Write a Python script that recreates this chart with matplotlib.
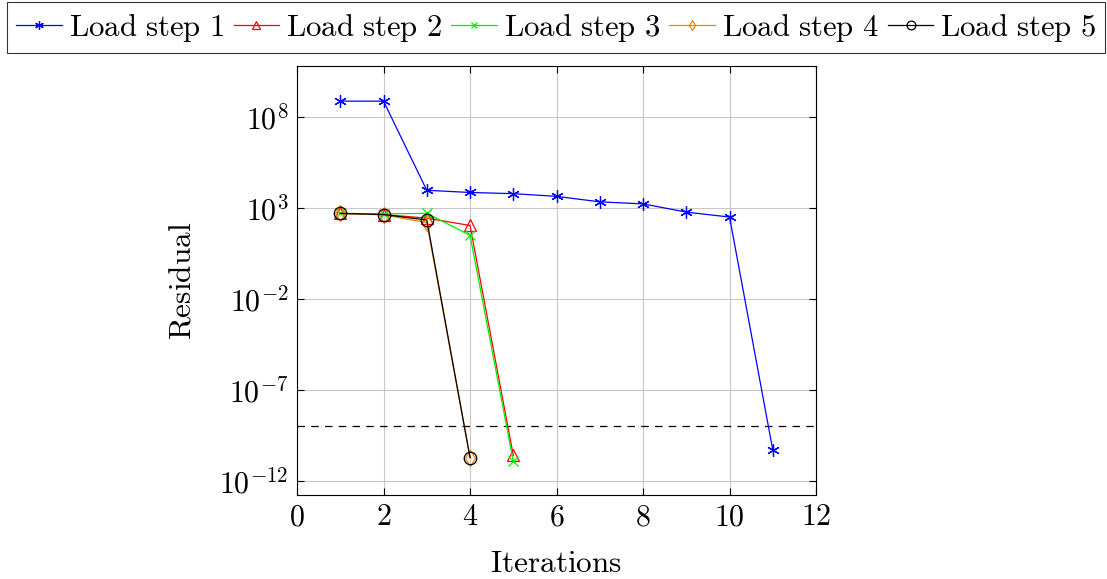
import matplotlib
matplotlib.use('Agg')
import matplotlib.pyplot as plt
import matplotlib.ticker as mticker

plt.rcParams['mathtext.fontset'] = 'cm'
plt.rcParams['font.family'] = 'serif'
plt.rcParams['font.serif'] = ['DejaVu Serif']

# residual history per load step
iters_1 = [1, 2, 3, 4, 5, 6, 7, 8, 9, 10, 11]
res_1 = [7.6e8, 7.6e8, 9.5e3, 7.2e3, 6.2e3, 4.4e3, 2.2e3, 1.7e3, 600, 320, 4.8e-11]
iters_2 = [1, 2, 3, 4, 5]
res_2 = [510, 440, 280, 110, 2.5e-11]
iters_3 = [1, 2, 3, 4, 5]
res_3 = [510, 480, 510, 32, 1.2e-11]
iters_4 = [1, 2, 3, 4]
res_4 = [510, 420, 160, 1.9e-11]
iters_5 = [1, 2, 3, 4]
res_5 = [510, 440, 220, 1.9e-11]
tolerance = 1e-9

labels = ['Load step 1', 'Load step 2', 'Load step 3', 'Load step 4', 'Load step 5']

fig = plt.figure(figsize=(11.07, 5.79), dpi=100)
ax = fig.add_axes([0.2683, 0.145, 0.4689, 0.741])

lw = 0.9
ax.plot(iters_1, res_1, color='blue', lw=lw, marker=(6, 2, 0), ms=9, mew=0.9,
        label=labels[0], zorder=3)
ax.plot(iters_2, res_2, color='red', lw=lw, marker='^', ms=8, mfc='none', mew=0.9,
        label=labels[1], zorder=3)
ax.plot(iters_3, res_3, color='#00ee00', lw=lw, marker='x', ms=7, mew=0.9,
        label=labels[2], zorder=3)
ax.plot(iters_4, res_4, color='#ff8000', lw=lw, marker='d', ms=8, mfc='none', mew=0.9,
        label=labels[3], zorder=3)
ax.plot(iters_5, res_5, color='black', lw=lw, marker='o', ms=9, mfc='none', mew=0.9,
        label=labels[4], zorder=3)

ax.axhline(tolerance, color='black', lw=0.9, ls=(0, (6, 5)), zorder=2)

ax.set_yscale('log')
ax.set_xlim(0, 12)
ax.set_ylim(1.65e-13, 6.5e10)
ax.set_xticks([0, 2, 4, 6, 8, 10, 12])
ax.yaxis.set_major_locator(mticker.FixedLocator([1e-12, 1e-7, 1e-2, 1e3, 1e8]))
ax.yaxis.set_minor_locator(mticker.NullLocator())
ax.set_xticklabels(['$%d$' % v for v in [0, 2, 4, 6, 8, 10, 12]])
ax.set_yticklabels(['$10^{-12}$', '$10^{-7}$', '$10^{-2}$', '$10^{3}$', '$10^{8}$'])
ax.tick_params(direction='in', top=True, right=True, labelsize=21.5, length=5,
               width=0.8, pad=6)
ax.grid(True, color='#c8c8c8', lw=0.8)
for s in ax.spines.values():
    s.set_linewidth(0.8)

ax.set_xlabel(r'$\mathrm{Iterations}$', fontsize=22.5, labelpad=12)
ax.set_ylabel(r'$\mathrm{Residual}$', fontsize=22.5, labelpad=16)

handles, _ = ax.get_legend_handles_labels()
leg = fig.legend(handles, [r'$\mathrm{%s}$' % l.replace(' ', r'\ ') for l in labels],
                 loc='upper center', bbox_to_anchor=(0.5025, 0.996), ncol=5,
                 fontsize=22.2, frameon=True, fancybox=False, handlelength=1.47,
                 handletextpad=0.22, columnspacing=0.32, borderpad=0.3,
                 borderaxespad=0.0, markerscale=0.7)
leg.get_frame().set_edgecolor('black')
leg.get_frame().set_linewidth(0.8)

fig.savefig('out.png', dpi=100)
